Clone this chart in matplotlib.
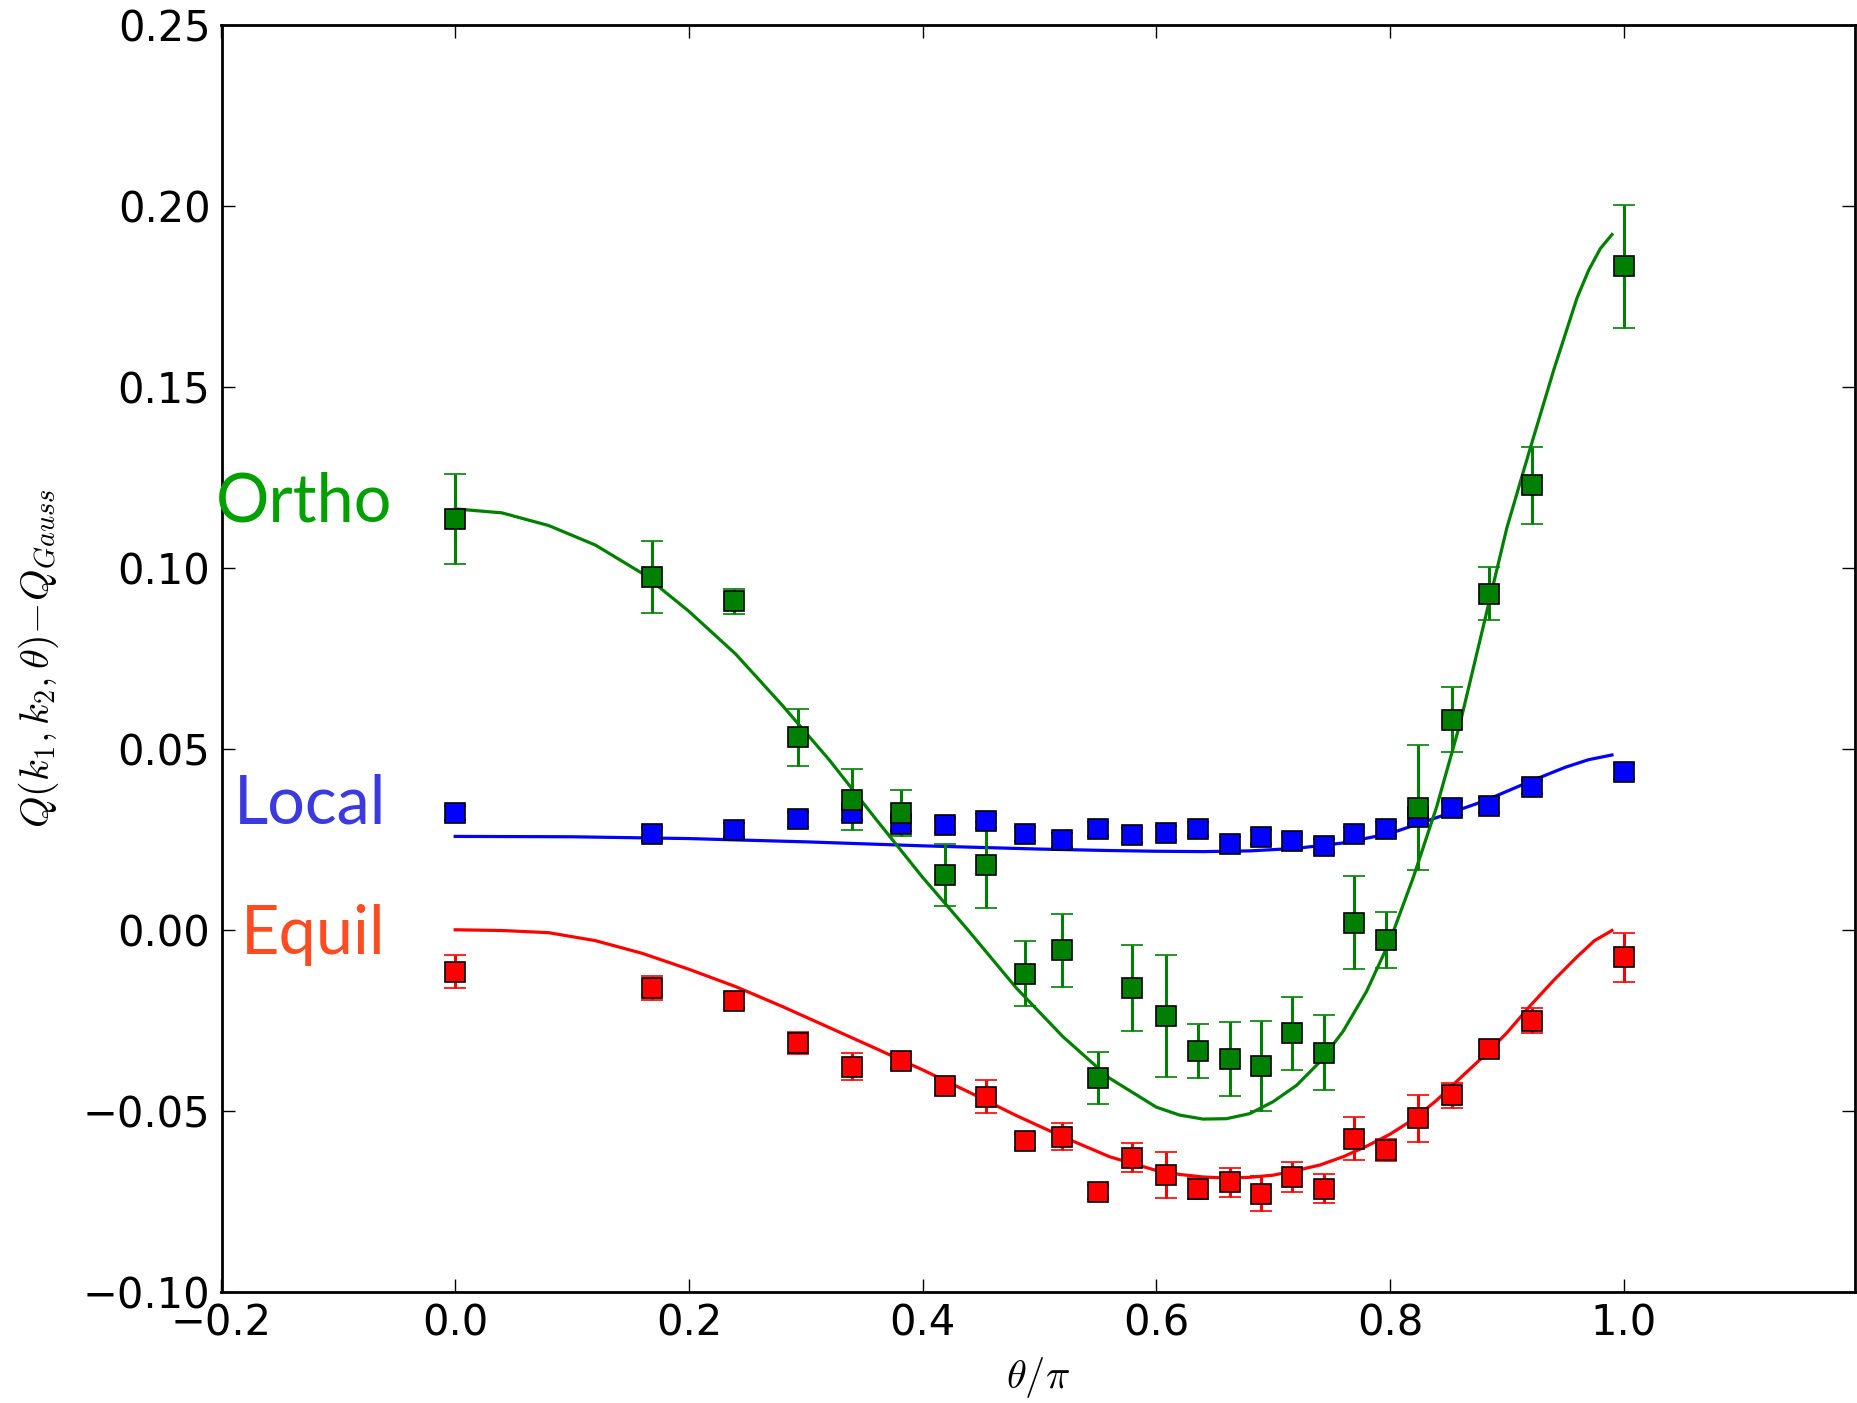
import numpy as np
import matplotlib
matplotlib.use("Agg")
import matplotlib.pyplot as plt

plt.rcParams['mathtext.fontset'] = 'cm'

# theta/pi values of the measured configurations
theta = [0.0, 0.1683, 0.2387, 0.2933, 0.3398, 0.3814, 0.4194, 0.4545, 0.4879,
         0.5195, 0.5503, 0.5795, 0.6080, 0.6357, 0.6627, 0.6899, 0.7164, 0.7432,
         0.7695, 0.7966, 0.8240, 0.8531, 0.8845, 0.9216, 1.0]

# measured Q - Q_Gauss
q_local = [0.0323, 0.0265, 0.0276, 0.0305, 0.0324, 0.0292, 0.0289, 0.0301, 0.0265,
           0.0248, 0.0278, 0.0261, 0.0268, 0.0279, 0.0236, 0.0256, 0.0244, 0.0231,
           0.0265, 0.0278, 0.0311, 0.0337, 0.0343, 0.0395, 0.0437]
err_local = [0.002] * 25

q_ortho = [0.1134, 0.0974, 0.0908, 0.0532, 0.0359, 0.0323, 0.0152, 0.0179, -0.0121,
           -0.0057, -0.0409, -0.0161, -0.0238, -0.0334, -0.0358, -0.0376, -0.0286, -0.0340,
           0.0020, -0.0028, 0.0337, 0.0581, 0.0929, 0.1228, 0.1833]
err_ortho = [0.0124, 0.0100, 0.0035, 0.0079, 0.0084, 0.0063, 0.0085, 0.0118, 0.0089,
             0.0100, 0.0072, 0.0120, 0.0168, 0.0075, 0.0102, 0.0124, 0.0101, 0.0104,
             0.0129, 0.0078, 0.0173, 0.0089, 0.0074, 0.0107, 0.0169]

q_equil = [-0.0116, -0.0160, -0.0196, -0.0312, -0.0378, -0.0363, -0.0433, -0.0461, -0.0584,
           -0.0572, -0.0724, -0.0630, -0.0678, -0.0715, -0.0697, -0.0729, -0.0683, -0.0715,
           -0.0577, -0.0609, -0.0521, -0.0457, -0.0330, -0.0251, -0.0076]
err_equil = [0.0046, 0.0033, 0.002, 0.003, 0.0037, 0.002, 0.002, 0.0046, 0.002,
             0.0037, 0.002, 0.004, 0.0063, 0.003, 0.004, 0.0048, 0.0042, 0.0039,
             0.006, 0.003, 0.0064, 0.0035, 0.002, 0.0035, 0.0068]

# theory curves
ortho_th_x = [0.0, 0.04, 0.08, 0.12, 0.16, 0.20, 0.24, 0.28, 0.32, 0.36, 0.40, 0.44,
              0.48, 0.52, 0.56, 0.60, 0.62, 0.64, 0.66, 0.68, 0.70, 0.72, 0.74, 0.76,
              0.78, 0.80, 0.82, 0.84, 0.86, 0.88, 0.90, 0.92, 0.94, 0.96, 0.97, 0.98, 0.99]
ortho_th_y = [0.1163, 0.1152, 0.1117, 0.1063, 0.0985, 0.0880, 0.0762, 0.0620, 0.0470,
              0.0306, 0.0145, -0.0005, -0.0160, -0.0295, -0.0410, -0.0490, -0.0512,
              -0.0523, -0.0522, -0.0508, -0.0475, -0.0430, -0.0365, -0.0280, -0.0170,
              -0.0030, 0.0145, 0.0340, 0.0570, 0.0840, 0.1110, 0.1330, 0.1545, 0.1745,
              0.1822, 0.1882, 0.1921]

local_th_x = [0.0, 0.10, 0.20, 0.30, 0.40, 0.50, 0.56, 0.60, 0.64, 0.68, 0.72, 0.76,
              0.80, 0.84, 0.88, 0.92, 0.95, 0.97, 0.99]
local_th_y = [0.0258, 0.0257, 0.0252, 0.0243, 0.0232, 0.0223, 0.0219, 0.0217, 0.0216,
              0.0218, 0.0225, 0.0240, 0.0266, 0.0310, 0.0355, 0.0410, 0.0449, 0.0470, 0.0483]

equil_th_x = [0.0, 0.04, 0.08, 0.12, 0.16, 0.20, 0.24, 0.28, 0.32, 0.36, 0.40, 0.44,
              0.48, 0.52, 0.56, 0.60, 0.62, 0.64, 0.66, 0.68, 0.70, 0.72, 0.74, 0.76,
              0.78, 0.80, 0.82, 0.84, 0.86, 0.88, 0.90, 0.92, 0.94, 0.96, 0.975, 0.99]
equil_th_y = [0.0, -0.0002, -0.0008, -0.0030, -0.0065, -0.0109, -0.0157, -0.0212,
              -0.0270, -0.0328, -0.0387, -0.0449, -0.0513, -0.0572, -0.0627, -0.0665,
              -0.0676, -0.0683, -0.0686, -0.0684, -0.0678, -0.0665, -0.0650, -0.0627,
              -0.0598, -0.0565, -0.0524, -0.0471, -0.0410, -0.0350, -0.0285, -0.0210,
              -0.0140, -0.0075, -0.0030, -0.0002]

series = [
    (q_equil, err_equil, equil_th_x, equil_th_y, 'r'),
    (q_local, err_local, local_th_x, local_th_y, 'b'),
    (q_ortho, err_ortho, ortho_th_x, ortho_th_y, 'g'),
]

fig = plt.figure(figsize=(18.57, 14.03), dpi=100)
ax = fig.add_axes([221.5 / 1857, 1 - 1291.7 / 1403, (1855 - 221.5) / 1857, (1291.7 - 25) / 1403])

for q, err, tx, ty, c in series:
    ax.errorbar(theta, q, yerr=err, fmt='s', color=c, mfc=c, mec='k', ms=15, mew=1.2,
                elinewidth=2.2, capsize=8, capthick=1.6)
    ax.plot(tx, ty, '-', color=c, lw=2.3)

ax.set_xlim(-0.2, 1.198)
ax.set_ylim(-0.10, 0.25)
ax.set_xticks([-0.2, 0.0, 0.2, 0.4, 0.6, 0.8, 1.0])
ax.set_yticks(np.arange(-0.10, 0.2501, 0.05))
ax.tick_params(direction='in', length=9.5, width=1, labelsize=30, pad=8,
               top=True, right=True)
for sp in ax.spines.values():
    sp.set_linewidth(2)

ax.set_xlabel(r'$\theta/\pi$', fontsize=29, labelpad=7)
ax.set_ylabel(r'$Q(k_1,k_2,\theta)\!-\!Q_{Gauss}$', fontsize=29)
ax.yaxis.set_label_coords(-0.098, 0.5)

# shape labels
fig.text(216 / 1857, 1 - 522 / 1403, 'Ortho', color='#00A000', fontsize=48,
         family='Lato', ha='left', va='baseline')
fig.text(234 / 1857, 1 - 824 / 1403, 'Local', color='#3A3AE0', fontsize=48,
         family='Lato', ha='left', va='baseline')
fig.text(241 / 1857, 1 - 954 / 1403, 'Equil', color='#FF4B22', fontsize=48,
         family='Lato', ha='left', va='baseline')

fig.savefig('out.png', dpi=100)
